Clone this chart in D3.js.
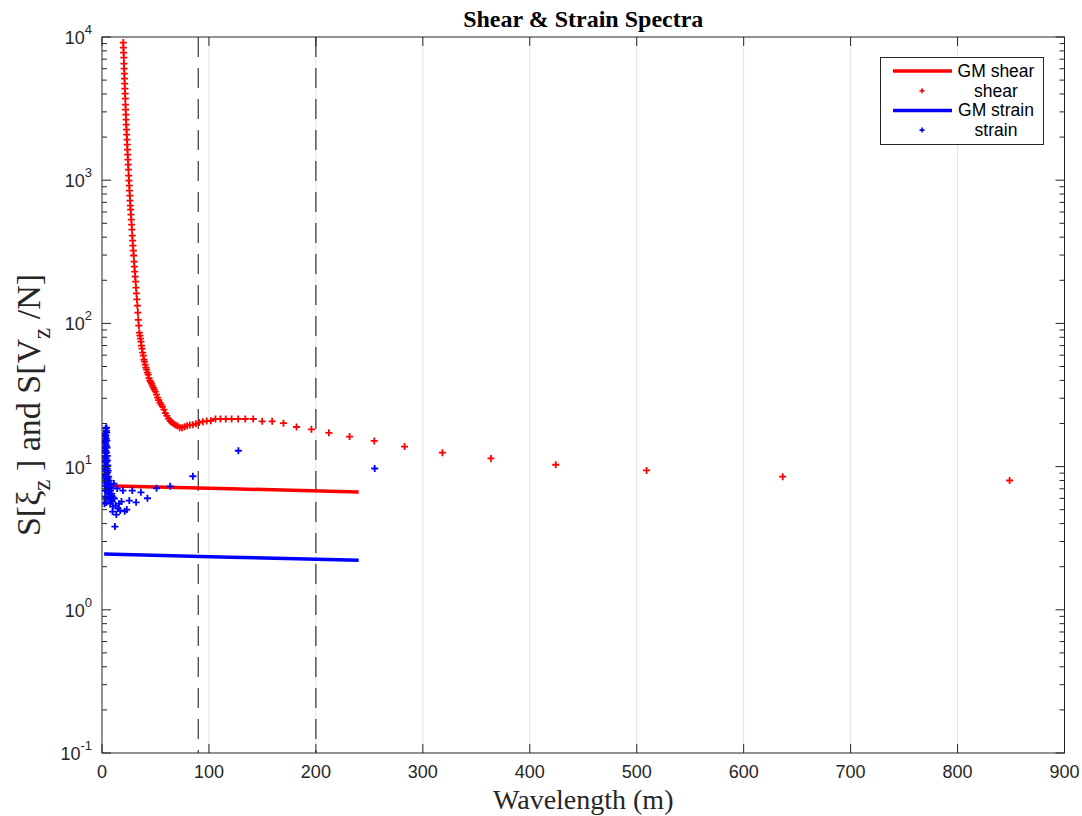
<!DOCTYPE html>
<html><head><meta charset="utf-8">
<script src="https://cdn.jsdelivr.net/npm/d3@7"></script>
<style>body{margin:0;background:#fff}svg{display:block}</style>
</head><body>
<svg id="c" width="1082" height="816"></svg>
<script>
// ---------- data ----------
const xTicks = [0,100,200,300,400,500,600,700,800,900];
const yTicksExp = [-1,0,1,2,3,4];
const dashedX = [90, 200];

const shearLambda = [848.7,636.5,509.2,424.3,363.7,318.3,282.9,254.6,231.5,212.2,195.8,181.9,169.7,159.1,149.8,141.4,134.0,127.3,121.2,115.7,110.7,106.1,101.8,97.9,94.3,90.9,87.8,84.9,82.1,79.6,77.2,74.9,72.7,70.7,68.8,67.0,65.3,63.7,62.1,60.6,59.2,57.9,56.6,55.3,54.2,53.0,52.0,50.9,49.9,49.0,48.0,47.1,46.3,45.5,44.7,43.9,43.2,42.4,41.7,41.1,40.4,39.8,39.2,38.6,38.0,37.4,36.9,36.4,35.9,35.4,34.9,34.4,33.9,33.5,33.1,32.6,32.2,31.8,31.4,31.0,30.7,30.3,30.0,29.6,29.3,28.9,28.6,28.3,28.0,27.7,27.4,27.1,26.8,26.5,26.2,26.0,25.7,25.5,25.2,25.0,24.7,24.5,24.2,24.0,23.8,23.6,23.4,23.1,22.9,22.7,22.5,22.3,22.1,21.9,21.8,21.6,21.4,21.2,21.0,20.9,20.7,20.5,20.4,20.2,20.0,19.9];
const shearValue = [8.0,8.5,9.4,10.3,11.4,12.5,13.8,15.1,16.2,17.2,18.2,18.9,20.1,20.7,20.7,21.5,21.5,21.5,21.5,21.5,21.5,21.5,20.9,20.8,20.6,20.3,19.9,19.6,19.5,19.3,19.0,18.7,18.7,19.2,19.5,19.8,20.3,20.9,21.6,22.7,23.6,25.0,26.2,27.1,28.0,29.1,30.3,31.8,33.4,34.5,35.6,36.8,38.0,39.0,39.9,41.5,43.9,45.3,47.6,49.1,51.5,54.0,55.8,59.5,62.5,66.7,70.0,74.6,78.3,82.2,86.2,96.5,106,119,133,147,162,178,196,212,230,249,270,298,322,349,379,410,452,490,531,575,623,665,720,781,846,917,994,1077,1186,1285,1393,1509,1636,1773,1921,2082,2256,2445,2650,2871,3112,3373,3714,4024,4362,4727,5122,5551,6015,6520,7180,7782,8434,9140];

const strainLambda = [255,127.5,85,63.75,51,42.5,36.4,31.9,28.3,25.5,23.2,21.25,19.6,18.2,17.0,15.9,15.0,14.2,13.4,12.75,12.1,11.6,11.1,10.6,10.2,9.8,9.4,9.1,8.8,8.5,8.2,8.0,7.7,7.5,7.3,7.1,6.9,6.7,6.5,6.4,6.2,6.1,5.9,5.8,5.7,5.5,5.4,5.3,5.2,5.1,5.0,4.9,4.8,4.7,4.6,4.55,4.47,4.4,4.32,4.25,4.18,4.11,4.05,3.98,3.92,3.86,3.81,3.75,3.70,3.64,3.59,3.54,3.49,3.45,3.40,3.36,3.31,3.27,3.23,3.19,3.15,3.11,3.07,3.04,3.00,2.97,2.93,2.90,2.87,2.83,2.80,2.77,2.74,2.71,2.68,2.66,2.63,2.60,2.58,2.55,2.52,2.50,2.48,2.45,2.43,2.41,2.38,2.36,2.34,2.32];
const strainValue = [9.7,12.9,8.56,7.28,7.06,6.01,6.61,5.63,6.80,5.79,5.01,4.87,6.80,5.70,4.93,5.51,5.09,7.02,4.62,5.34,3.81,5.98,7.61,6.08,5.26,4.85,5.70,6.48,5.88,7.14,6.17,6.80,5.51,7.02,5.79,7.49,6.37,7.98,6.08,7.25,8.51,6.58,7.73,9.38,6.80,8.25,10.2,7.25,9.08,11.0,7.85,11.9,9.68,13.6,8.25,15.2,11.0,17.3,12.5,18.7,9.38,14.0,5.61,15.7,11.4,17.8,8.79,15.2,10.7,16.5,6.80,12.9,18.5,10.0,14.5,7.98,11.9,16.2,9.38,13.6,6.17,11.0,15.2,8.51,12.5,7.37,14.0,10.2,15.7,8.25,11.7,6.80,13.4,9.38,14.7,7.73,11.4,8.79,16.5,10.7,5.98,12.5,9.68,15.0,7.37,11.0,17.0,8.65,12.9,5.51];

const gmLambda = [2, 120, 240];
const gmShear = [7.35, 7.0, 6.65];
const gmStrain = [2.45, 2.33, 2.22];

const legendLabels = ["GM shear","shear","GM strain","strain"];
const legendColors = ["#ff0000","#ff0000","#0000ff","#0000ff"];
const legendKinds = ["line","mark","line","mark"];

// ---------- layout ----------
const L = 102, R = 1064.5, T = 37, B = 753;
const svg = d3.select("#c");
const x = d3.scaleLinear().domain([0,900]).range([L,R]);
const y = d3.scaleLog().domain([0.1,10000]).range([B,T]);
const axisCol = "#262626";
const sans = "'Liberation Sans', Arial, Helvetica, sans-serif";
const serif = "'Liberation Serif', 'Times New Roman', serif";

// grid
svg.append("g").selectAll("line").data(xTicks.slice(1,-1)).join("line")
  .attr("x1",d=>x(d)).attr("x2",d=>x(d)).attr("y1",T).attr("y2",B)
  .attr("stroke","#e3e3e3").attr("stroke-width",1);

// clip
svg.append("clipPath").attr("id","clip").append("rect")
  .attr("x",L).attr("y",T).attr("width",R-L).attr("height",B-T);
const plot = svg.append("g").attr("clip-path","url(#clip)");

// dashed lines
plot.selectAll("line.dash").data(dashedX).join("line").attr("class","dash")
  .attr("x1",d=>x(d)).attr("x2",d=>x(d)).attr("y1",T).attr("y2",B)
  .attr("stroke","#333").attr("stroke-width",1.2).attr("stroke-dasharray","20,11");

const line = d3.line().x(d=>x(d[0])).y(d=>y(d[1]));
const plus = "M-3.5,0H3.5M0,-3.5V3.5";

plot.append("path").datum(gmLambda.map((l,i)=>[l,gmShear[i]])).attr("d",line)
  .attr("fill","none").attr("stroke","#ff0000").attr("stroke-width",3.5);
plot.append("g").selectAll("path").data(shearLambda.map((l,i)=>[l,shearValue[i]])).join("path")
  .attr("transform",d=>`translate(${x(d[0])},${y(d[1])})`).attr("d",plus)
  .attr("stroke","#ff0000").attr("stroke-width",1.8).attr("fill","none");
plot.append("path").datum(gmLambda.map((l,i)=>[l,gmStrain[i]])).attr("d",line)
  .attr("fill","none").attr("stroke","#0000ff").attr("stroke-width",3.5);
plot.append("g").selectAll("path").data(strainLambda.map((l,i)=>[l,strainValue[i]])).join("path")
  .attr("transform",d=>`translate(${x(d[0])},${y(d[1])})`).attr("d",plus)
  .attr("stroke","#0000ff").attr("stroke-width",1.8).attr("fill","none");

// axes box
svg.append("rect").attr("x",L).attr("y",T).attr("width",R-L).attr("height",B-T)
  .attr("fill","none").attr("stroke",axisCol).attr("stroke-width",1);

// x ticks
const xt = svg.append("g");
xTicks.forEach(t=>{
  xt.append("line").attr("x1",x(t)).attr("x2",x(t)).attr("y1",B).attr("y2",B-9).attr("stroke",axisCol);
  xt.append("line").attr("x1",x(t)).attr("x2",x(t)).attr("y1",T).attr("y2",T+9).attr("stroke",axisCol);
  xt.append("text").attr("x",x(t)).attr("y",B+25).attr("text-anchor","middle")
    .attr("font-family",sans).attr("font-size",18).attr("fill",axisCol).text(t);
});

// y ticks
const yt = svg.append("g");
yTicksExp.forEach(e=>{
  const v = Math.pow(10,e);
  yt.append("line").attr("x1",L).attr("x2",L+9).attr("y1",y(v)).attr("y2",y(v)).attr("stroke",axisCol);
  yt.append("line").attr("x1",R).attr("x2",R-9).attr("y1",y(v)).attr("y2",y(v)).attr("stroke",axisCol);
  const tx = yt.append("text").attr("x",L-10).attr("y",y(v)+7).attr("text-anchor","end")
    .attr("font-family",sans).attr("font-size",18).attr("fill",axisCol);
  tx.append("tspan").text("10");
  tx.append("tspan").attr("dy",-10).attr("font-size",13).text(e);
  if (e < 4) {
    for (let m=2; m<=9; m++) {
      const mv = m*v;
      yt.append("line").attr("x1",L).attr("x2",L+5).attr("y1",y(mv)).attr("y2",y(mv)).attr("stroke",axisCol);
      yt.append("line").attr("x1",R).attr("x2",R-5).attr("y1",y(mv)).attr("y2",y(mv)).attr("stroke",axisCol);
    }
  }
});

// title
svg.append("text").attr("x",(L+R)/2).attr("y",27).attr("text-anchor","middle")
  .attr("font-family",serif).attr("font-weight","bold").attr("font-size",24).attr("fill","#000")
  .text("Shear & Strain Spectra");
// x label
svg.append("text").attr("x",(L+R)/2).attr("y",809).attr("text-anchor","middle")
  .attr("font-family",serif).attr("font-size",28).attr("fill",axisCol).text("Wavelength (m)");
// y label
const yl = svg.append("text").attr("transform",`translate(40,405) rotate(-90)`)
  .attr("text-anchor","middle").attr("font-family",serif).attr("font-size",34).attr("fill",axisCol);
yl.append("tspan").text("S[ξ");
yl.append("tspan").attr("dy",10).attr("font-size",25).text("z");
yl.append("tspan").attr("dy",-10).text(" ] and S[V");
yl.append("tspan").attr("dy",10).attr("font-size",25).text("z");
yl.append("tspan").attr("dy",-10).text(" /N]");

// legend
const lg = svg.append("g");
lg.append("rect").attr("x",880.5).attr("y",57.5).attr("width",163).attr("height",87)
  .attr("fill","#fff").attr("stroke",axisCol).attr("stroke-width",1);
legendLabels.forEach((lab,i)=>{
  const cy = 71 + i*19.7;
  if (legendKinds[i]==="line") {
    lg.append("line").attr("x1",893).attr("x2",952).attr("y1",cy).attr("y2",cy)
      .attr("stroke",legendColors[i]).attr("stroke-width",3.5);
  } else {
    lg.append("path").attr("transform",`translate(922,${cy})`).attr("d","M-2.5,0H2.5M0,-2.5V2.5")
      .attr("stroke",legendColors[i]).attr("stroke-width",1.6);
  }
  lg.append("text").attr("x",996).attr("y",cy+6).attr("text-anchor","middle")
    .attr("font-family",sans).attr("font-size",17.5).attr("fill","#000").text(lab);
});
</script>
</body></html>
